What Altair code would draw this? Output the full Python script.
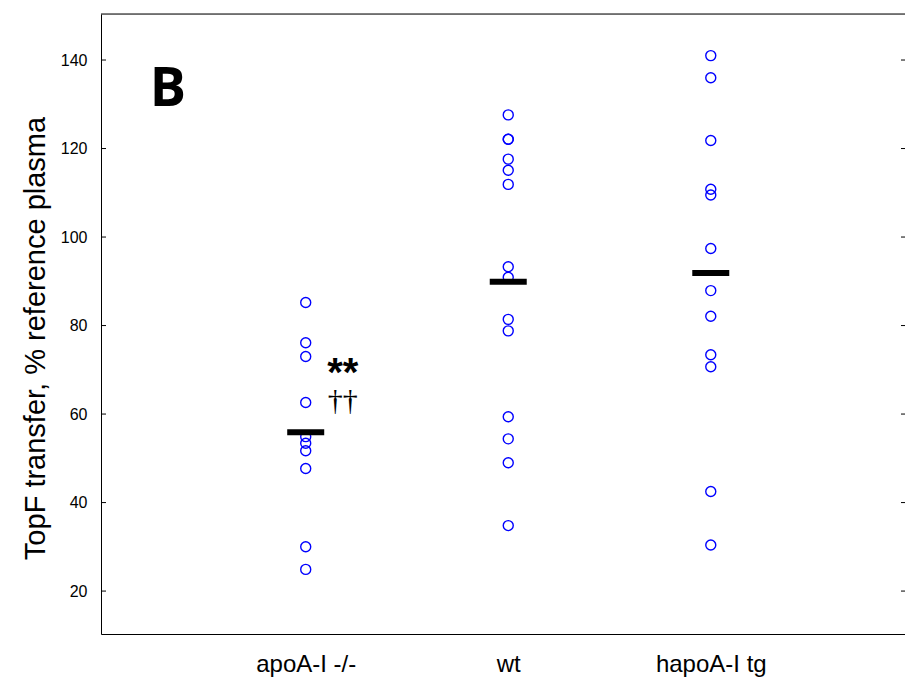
import altair as alt
import pandas as pd

groups = ["apoA-I -/-", "wt", "hapoA-I tg"]
apo_ko = [85.2, 76.1, 73.0, 62.6, 54.9, 53.4, 51.7, 47.7, 30.0, 24.9]
wt = [127.6, 122.1, 122.1, 117.6, 115.1, 111.9, 93.3, 90.9, 81.4, 78.8,
      59.4, 54.4, 49.0, 34.8]
hapo_tg = [141.0, 136.0, 121.8, 110.8, 109.5, 97.4, 87.9, 82.1, 73.4, 70.7,
           42.5, 30.4]
means = [55.9, 89.9, 91.9]
y_ticks = [20, 40, 60, 80, 100, 120, 140]
sig_stars = "**"
sig_daggers = "††"
sig_y = [70.4, 63.2]
panel_label = "B"

W, H = 804, 620

rows = []
for i, (g, vals) in enumerate(zip(groups, [apo_ko, wt, hapo_tg])):
    for v in vals:
        rows.append({"pos": i + 1, "group": g, "value": v})
pts = pd.DataFrame(rows)
mean_df = pd.DataFrame({"pos": [1, 2, 3], "group": groups, "value": means})
tick_df = pd.DataFrame({"value": y_ticks})
ann_df = pd.DataFrame({"pos": [1, 1], "value": sig_y,
                       "label": [sig_stars, sig_daggers]})
b_df = pd.DataFrame({"label": [panel_label]})

label_expr = "[" + ",".join("'" + g + "'" for g in groups) + "][datum.value - 1]"

xscale = alt.Scale(domain=[-0.0108, 3.959], nice=False, zero=False)
yscale = alt.Scale(domain=[10.3, 150.4], nice=False, zero=False)

x_enc = alt.X("pos:Q", scale=xscale,
              axis=alt.Axis(title=None, ticks=False, labelAngle=0,
                            values=[1, 2, 3], labelExpr=label_expr,
                            labelFontSize=24, labelPadding=18,
                            domainColor="black", grid=False))
y_enc = alt.Y("value:Q", scale=yscale,
              axis=alt.Axis(title="TopF transfer, % reference plasma",
                            values=y_ticks, tickSize=0, labelPadding=14,
                            labelFontSize=16, titleFontSize=29,
                            titleFontWeight="normal", titlePadding=10,
                            titleY=324,
                            domainColor="black", grid=False))

points = alt.Chart(pts).mark_point(
    shape="circle", filled=False, color="#0000ff", size=100, strokeWidth=1.4,
    opacity=1
).encode(x=x_enc, y=y_enc)

bars = alt.Chart(mean_df).mark_tick(
    orient="horizontal", color="black", size=37, thickness=6, opacity=1
).encode(x=alt.X("pos:Q", scale=xscale), y=alt.Y("value:Q", scale=yscale))

left_ticks = alt.Chart(tick_df).mark_rule(color="black", strokeWidth=1).encode(
    y=alt.Y("value:Q", scale=yscale), x=alt.value(0), x2=alt.value(5))
right_ticks = alt.Chart(tick_df).mark_rule(color="black", strokeWidth=1).encode(
    y=alt.Y("value:Q", scale=yscale), x=alt.value(W - 4), x2=alt.value(W))

top_line = alt.Chart(b_df).mark_rule(color="black", strokeWidth=1).encode(
    y=alt.value(0), x=alt.value(0), x2=alt.value(W))

stars = alt.Chart(ann_df.iloc[[0]]).mark_text(
    fontSize=40, fontWeight="bold", font="Liberation Sans", dx=37, dy=6,
    color="black"
).encode(x=alt.X("pos:Q", scale=xscale), y=alt.Y("value:Q", scale=yscale),
         text="label:N")

daggers = alt.Chart(ann_df.iloc[[1]]).mark_text(
    fontSize=30, font="Liberation Serif", dx=37, dy=1, color="black"
).encode(x=alt.X("pos:Q", scale=xscale), y=alt.Y("value:Q", scale=yscale),
         text="label:N")

blabel = alt.Chart(b_df).mark_text(
    fontSize=54, fontWeight="bold", font="Open Sans", color="black"
).encode(x=alt.value(67), y=alt.value(76), text="label:N")

chart = alt.layer(
    left_ticks, right_ticks, top_line, points, bars, stars, daggers, blabel
).properties(
    width=W, height=H,
    autosize=alt.AutoSizeParams(type="none"),
    padding={"left": 93, "top": 6, "right": 0, "bottom": 46},
).configure_view(stroke=None).configure_axis(
    labelFont="Liberation Sans", titleFont="Liberation Sans",
    labelColor="black", titleColor="black"
).configure(background="white")

chart.save("out.html", embed_options={"renderer": "svg", "actions": False})
